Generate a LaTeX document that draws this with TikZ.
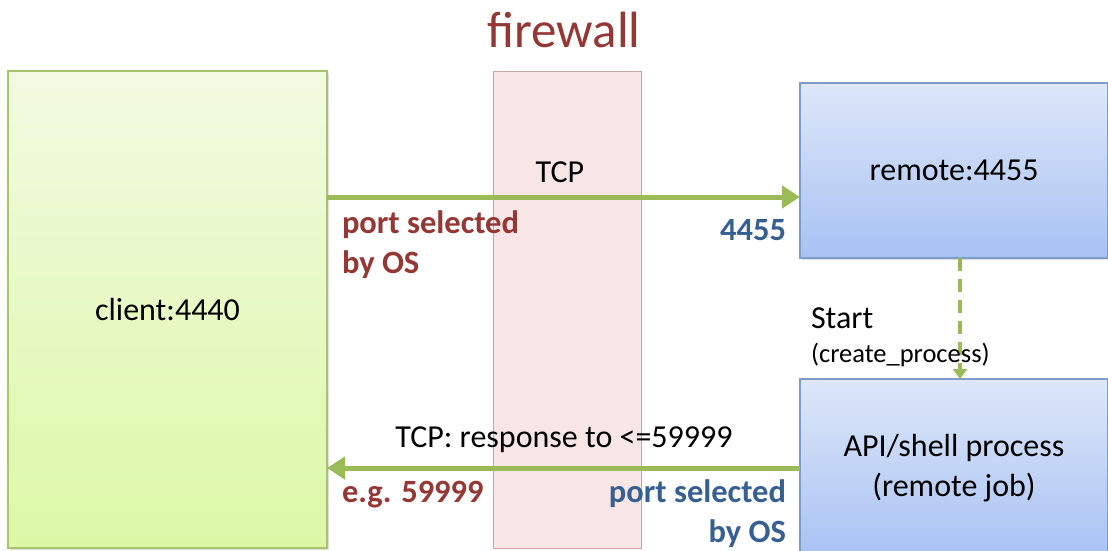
\documentclass[tikz,border=0pt]{standalone}
\usepackage{fontspec}
\setmainfont{Carlito}
\usetikzlibrary{arrows.meta,shadows}
\definecolor{fwred}{HTML}{953735}
\definecolor{portblue}{HTML}{376092}
\definecolor{arrowgreen}{HTML}{9BBB59}
\definecolor{clienttop}{HTML}{F2FAE2}
\definecolor{clientbot}{HTML}{DCF8A6}
\definecolor{clientline}{HTML}{A6C46A}
\definecolor{remotetop}{HTML}{DEE7F9}
\definecolor{remotebot}{HTML}{A7C2F3}
\definecolor{remoteline}{HTML}{7F9CC8}
\definecolor{fwfill}{HTML}{F8E6E6}
\definecolor{fwline}{HTML}{C8A4A4}
\tikzset{
  base/.style={inner sep=0pt, outer sep=0pt, font=\fontsize{32}{40}\selectfont},
  clientbox/.style={base, draw=clientline, line width=1.2pt, top color=clienttop, bottom color=clientbot,
     drop shadow={opacity=0.25, shadow xshift=1.5pt, shadow yshift=-2pt}},
  remotebox/.style={base, draw=remoteline, line width=1.2pt, top color=remotetop, bottom color=remotebot,
     drop shadow={opacity=0.25, shadow xshift=1.5pt, shadow yshift=-2pt}, align=center},
  fwbox/.style={base, draw=fwline, line width=1pt, fill=fwfill},
  lbl/.style={base},
  redlbl/.style={base, text=fwred, font=\fontsize{32.5}{40}\selectfont\bfseries},
  bluelbl/.style={base, text=portblue, font=\fontsize{32.5}{40}\selectfont\bfseries},
  flow/.style={draw=arrowgreen, line width=5pt, -{Triangle[width=22pt,length=18pt]}},
  startflow/.style={draw=arrowgreen, line width=4pt, dash pattern=on 13pt off 8pt, -{Triangle[width=14pt,length=10pt]}}
}
\begin{document}
\begin{tikzpicture}[x=1pt,y=-1pt]
\useasboundingbox (0,0) rectangle (1108,550);
\begin{scope}
\clip (0,0) rectangle (1108,550);
\node[clientbox, minimum width=319pt, minimum height=477pt] (client) at (167.5,309.5) {client:4440};
\node[fwbox, minimum width=148pt, minimum height=477pt] (fw) at (567,309.5) {};
\node[remotebox, minimum width=308pt, minimum height=175pt] (remote) at (954,170.5) {remote:4455};
\node[remotebox, minimum width=308pt, minimum height=178pt] (api) at (954,468) {API/shell process\\(remote job)};

\node[base, text=fwred, font=\fontsize{51}{58}\selectfont] (fwtitle) at (564,30) {firewall};

\coordinate (tcpy) at (0,197);
\draw[flow] (client.east |- tcpy) -- (remote.west |- tcpy);
\draw[flow] (api.west) -- (api.west -| client.east);
\draw[startflow] ([xshift=6pt]remote.south) -- ([xshift=6pt]api.north);

\node[lbl] (tcp) at (560,172) {TCP};
\node[redlbl, anchor=west, align=left] (portsel) at (342,245) {port selected\\by OS};
\node[bluelbl, anchor=east] (p4455) at (786,230) {4455};
\node[lbl, anchor=west] (start) at (811,318) {Start};
\node[base, font=\fontsize{26.5}{30}\selectfont, anchor=west] (cp) at (811,355) {(create\_process)};
\node[lbl] (resp) at (564,440) {TCP: response to <=59999};
\node[redlbl, anchor=west] (eg) at (342,495) {e.g. 59999};
\node[bluelbl, anchor=east, align=right] (portsel2) at (786,514) {port selected\\by OS};
\end{scope}
\end{tikzpicture}
\end{document}
